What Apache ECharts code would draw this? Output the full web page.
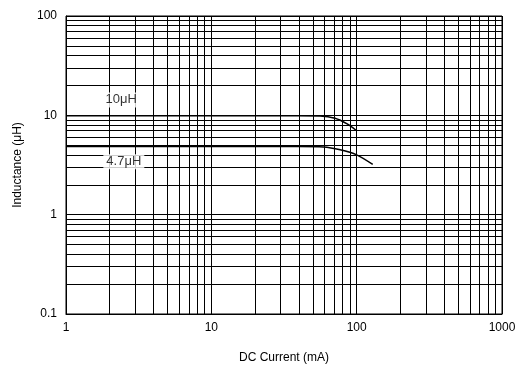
<!DOCTYPE html>
<html>
<head>
<meta charset="utf-8">
<script src="https://cdn.jsdelivr.net/npm/echarts@6/dist/echarts.min.js"></script>
<style>
  html, body { margin: 0; padding: 0; background: #fff; }
  #chart { width: 519px; height: 366px; }
</style>
</head>
<body>
<div id="chart"></div>
<script>
// inductance vs DC current
var curve10uH = [[1, 9.9], [10, 9.9], [40, 9.9], [56, 9.85], [71, 9.35], [86, 8.2], [100, 7.0]];
var curve47uH = [[1, 4.85], [10, 4.85], [40, 4.85], [59, 4.8], [77, 4.5], [100, 4.0], [129, 3.2]];

// minor grid lines (log paper)
var xMinor = [2, 3, 4, 5, 6, 7, 8, 9, 20, 30, 40, 50, 60, 70, 80, 90, 200, 300, 400, 500, 600, 700, 800, 900];
var yMinor = [0.2, 0.3, 0.4, 0.5, 0.6, 0.7, 0.8, 0.9, 2, 3, 4, 5, 6, 7, 8, 9, 20, 30, 40, 50, 60, 70, 80, 90];

var labels = [
    { name: '10\u03bcH', coord: [2.4, 14.3] },
    { name: '4.7\u03bcH', coord: [2.5, 3.4] }
];

var font = 'Liberation Sans, Arial, sans-serif';

var chart = echarts.init(document.getElementById('chart'));

var gridLines = xMinor.map(function (v) { return { xAxis: v }; })
    .concat(yMinor.map(function (v) { return { yAxis: v }; }));

var option = {
    animation: false,
    grid: {
        left: 66,
        right: 17,
        top: 16,
        bottom: 52,
        containLabel: false,
        outerBoundsMode: 'none',
        show: true,
        borderColor: '#000',
        borderWidth: 1
    },
    xAxis: {
        type: 'log',
        logBase: 10,
        min: 1,
        max: 1000,
        name: 'DC Current (mA)',
        nameLocation: 'middle',
        nameGap: 38,
        nameTextStyle: { color: '#000', fontSize: 12, fontFamily: font },
        axisLine: { lineStyle: { color: '#000', width: 1 } },
        axisTick: { show: false },
        axisLabel: {
            color: '#000', fontSize: 12, fontFamily: font, margin: 8,
            formatter: function (v) { return String(v); }
        },
        splitLine: { show: true, lineStyle: { color: '#000', width: 1 } }
    },
    yAxis: {
        type: 'log',
        logBase: 10,
        min: 0.1,
        max: 100,
        name: 'Inductance (\u03bcH)',
        nameLocation: 'middle',
        nameGap: 42,
        nameTextStyle: { color: '#000', fontSize: 12, fontFamily: font },
        axisLine: { lineStyle: { color: '#000', width: 1 } },
        axisTick: { show: false },
        axisLabel: {
            color: '#000', fontSize: 12, fontFamily: font, margin: 9,
            formatter: function (v) { return String(v); }
        },
        splitLine: { show: true, lineStyle: { color: '#000', width: 1 } }
    },
    series: [
        {
            name: 'grid',
            type: 'line',
            data: [],
            silent: true,
            markLine: {
                silent: true,
                symbol: 'none',
                label: { show: false },
                lineStyle: { color: '#000', width: 1, type: 'solid' },
                data: gridLines
            }
        },
        {
            name: '10uH',
            type: 'line',
            data: curve10uH,
            smooth: 0.3,
            showSymbol: false,
            lineStyle: { color: '#000', width: 1.5 },
            z: 3
        },
        {
            name: '4.7uH',
            type: 'line',
            data: curve47uH,
            smooth: 0.3,
            showSymbol: false,
            lineStyle: { color: '#000', width: 1.5 },
            z: 3
        },
        {
            name: 'labels',
            type: 'scatter',
            data: labels.map(function (l) { return { name: l.name, value: l.coord }; }),
            symbolSize: 0,
            z: 10,
            label: {
                show: true,
                position: 'inside',
                formatter: '{b}',
                color: '#000',
                fontSize: 13,
                fontFamily: font,
                backgroundColor: '#fff',
                padding: [1, 3]
            }
        }
    ]
};

chart.setOption(option);
</script>
</body>
</html>
